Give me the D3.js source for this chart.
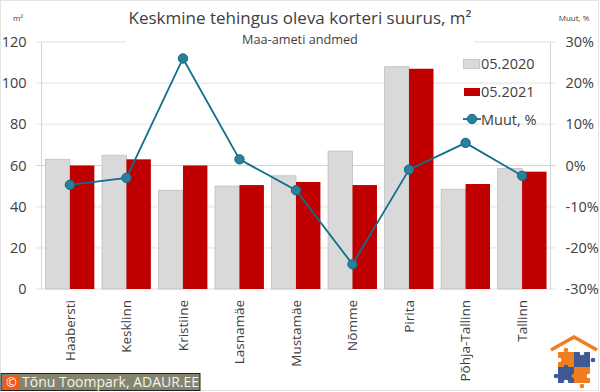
<!DOCTYPE html>
<html><head><meta charset="utf-8">
<script src="https://cdn.jsdelivr.net/npm/d3@7"></script>
<style>html,body{margin:0;padding:0;background:#fff}svg{display:block}text{font-family:"Open Sans",sans-serif}</style>
</head><body><svg id="c" width="600" height="392"></svg>
<script>
const categories=["Haabersti","Kesklinn","Kristiine","Lasnamäe","Mustamäe","Nõmme","Pirita","Põhja-Tallinn","Tallinn"];
const values2020=[63,65,48,50,55,67,108,48.5,58.5];
const values2021=[60,63,60,50.5,52,50.5,107,51,57];
const change=[-4.7,-3,26,1.5,-6,-24,-1,5.5,-2.5];
const leftTicks=[0,20,40,60,80,100,120];
const rightTicks=[-30,-20,-10,0,10,20,30];
const colors={a:"#d9d9d9",aStroke:"#bfbfbf",b:"#c00000",line:"#0f6f8c",dot:"#2a7f9b",dotStroke:"#136a86",text:"#404040"};

const svg=d3.select("#c");
const L=41.5,R=550.5,T=42,B=289;
svg.append("rect").attr("x",0.5).attr("y",0.5).attr("width",598).attr("height",390).attr("fill","#fff").attr("stroke","#e4e4e4");

const x=d3.scaleBand().domain(categories).range([L,R]).paddingInner(0.135).paddingOuter(0.07);
const y=d3.scaleLinear().domain([0,120]).range([B,T]);
const y2=d3.scaleLinear().domain([-30,30]).range([B,T]);
const inner=d3.scaleBand().domain([0,1]).range([0,x.bandwidth()]);

// gridlines
const grid=svg.append("g");
grid.selectAll("line").data(leftTicks).join("line")
 .attr("x1",36).attr("x2",555.5).attr("y1",d=>y(d)).attr("y2",d=>y(d))
 .attr("stroke",d=>d===60?"#d4d4d4":"#efefef").attr("stroke-width",d=>d===60?1:2);
// title mask on top gridline
svg.append("rect").attr("x",126).attr("y",38).attr("width",348).attr("height",8).attr("fill","#fff");
svg.append("g").selectAll("line").data([L,R]).join("line")
 .attr("x1",d=>d).attr("x2",d=>d).attr("y1",T).attr("y2",B).attr("stroke","#d4d4d4");

// bars
const g=svg.append("g");
g.selectAll(".a").data(values2020).join("rect").attr("class","a")
 .attr("x",(d,i)=>x(categories[i])+inner(0)).attr("width",inner.bandwidth())
 .attr("y",d=>y(d)).attr("height",d=>B-y(d)).attr("fill",colors.a).attr("stroke",colors.aStroke).attr("stroke-width",0.8);
g.selectAll(".b").data(values2021).join("rect").attr("class","b")
 .attr("x",(d,i)=>x(categories[i])+inner(1)).attr("width",inner.bandwidth())
 .attr("y",d=>y(d)).attr("height",d=>B-y(d)).attr("fill",colors.b);

// line
const cx=(d,i)=>x(categories[i])+x.bandwidth()/2;
svg.append("path").datum(change)
 .attr("d",d3.line().x(cx).y(d=>y2(d)))
 .attr("fill","none").attr("stroke",colors.line).attr("stroke-width",1.8);
svg.append("g").selectAll("circle").data(change).join("circle")
 .attr("cx",cx).attr("cy",d=>y2(d)).attr("r",4.7)
 .attr("fill",colors.dot).attr("stroke",colors.dotStroke);

// axes
function style(s){s.select(".domain").remove();s.selectAll(".tick line").remove();
 s.selectAll("text").attr("fill",colors.text).style("font-size","14.5px");}
svg.append("g").attr("transform",`translate(${L},0)`)
 .call(d3.axisLeft(y).tickValues(leftTicks).tickSize(0).tickPadding(15)).call(style);
svg.append("g").attr("transform",`translate(${R},0)`)
 .call(d3.axisRight(y2).tickValues(rightTicks).tickSize(0).tickPadding(15).tickFormat(d=>d+"%")).call(style);
const xa=svg.append("g").attr("transform",`translate(0,${B})`)
 .call(d3.axisBottom(x).tickSize(0)).call(style);
xa.selectAll("text").style("font-size","13.5px").attr("text-anchor","end")
 .attr("dy","0.35em").attr("dx",0).attr("y",0)
 .attr("transform","translate(0,11) rotate(-90)");

// titles
svg.append("text").attr("x",300).attr("y",24).attr("text-anchor","middle").attr("fill",colors.text).style("font-size","17px").text("Keskmine tehingus oleva korteri suurus, m²");
svg.append("text").attr("x",300).attr("y",44).attr("text-anchor","middle").attr("fill",colors.text).style("font-size","12.7px").text("Maa-ameti andmed");
svg.append("text").attr("x",18).attr("y",21).attr("text-anchor","middle").attr("fill",colors.text).style("font-size","8px").text("m²");
svg.append("text").attr("x",574).attr("y",21).attr("text-anchor","middle").attr("fill",colors.text).style("font-size","8px").text("Muut, %");

// legend
const lg=svg.append("g");
lg.append("rect").attr("x",463.5).attr("y",59.5).attr("width",16).attr("height",9).attr("fill",colors.a).attr("stroke",colors.aStroke).attr("stroke-width",0.8);
lg.append("rect").attr("x",464).attr("y",88).attr("width",16).attr("height",8).attr("fill",colors.b);
lg.append("line").attr("x1",463).attr("x2",481).attr("y1",119).attr("y2",119).attr("stroke",colors.line).attr("stroke-width",1.8);
lg.append("circle").attr("cx",472).attr("cy",119).attr("r",4.7).attr("fill",colors.dot).attr("stroke",colors.dotStroke);
lg.selectAll("text").data(["05.2020","05.2021","Muut, %"]).join("text")
 .attr("x",481).attr("y",(d,i)=>68.5+i*28).attr("fill",colors.text).style("font-size","14.5px").text(d=>d);

// credit
svg.append("rect").attr("x",1).attr("y",373.5).attr("width",199).attr("height",17).attr("fill","#84846f").attr("stroke","#222");
svg.append("rect").attr("x",3).attr("y",375).attr("width",17).attr("height",14).attr("fill","#f05a14");
svg.append("text").attr("x",11.5).attr("y",387).attr("text-anchor","middle").attr("fill","#fff").style("font-size","13px").text("©");
svg.append("text").attr("x",22).attr("y",387).attr("fill","#f4f4ee").style("font-size","14px").text("Tõnu Toompark, ADAUR.EE");

// logo
const lo=svg.append("g");
lo.append("path").attr("d","M551 350 L574 337 L597 350").attr("fill","none").attr("stroke","#f07d1e").attr("stroke-width",3.5);
lo.append("rect").attr("x",558).attr("y",352).attr("width",16).attr("height",15).attr("fill","#f07d1e");
lo.append("rect").attr("x",574).attr("y",352).attr("width",16).attr("height",15).attr("fill","#3d5a96");
lo.append("rect").attr("x",558).attr("y",367).attr("width",16).attr("height",16).attr("fill","#3d5a96");
lo.append("rect").attr("x",574).attr("y",367).attr("width",16).attr("height",16).attr("fill","#f07d1e");
[[566,350,"#f07d1e"],[593,360,"#3d5a96"],[556,376,"#3d5a96"],[582,386,"#f07d1e"],[566,367,"#3d5a96"],[574,376,"#f07d1e"]].forEach(p=>lo.append("circle").attr("cx",p[0]).attr("cy",p[1]).attr("r",2.3).attr("fill",p[2]));
[[559,360],[582,353],[589,376],[566,382]].forEach(p=>lo.append("circle").attr("cx",p[0]).attr("cy",p[1]).attr("r",2.3).attr("fill","#fff"));
</script></body></html>
